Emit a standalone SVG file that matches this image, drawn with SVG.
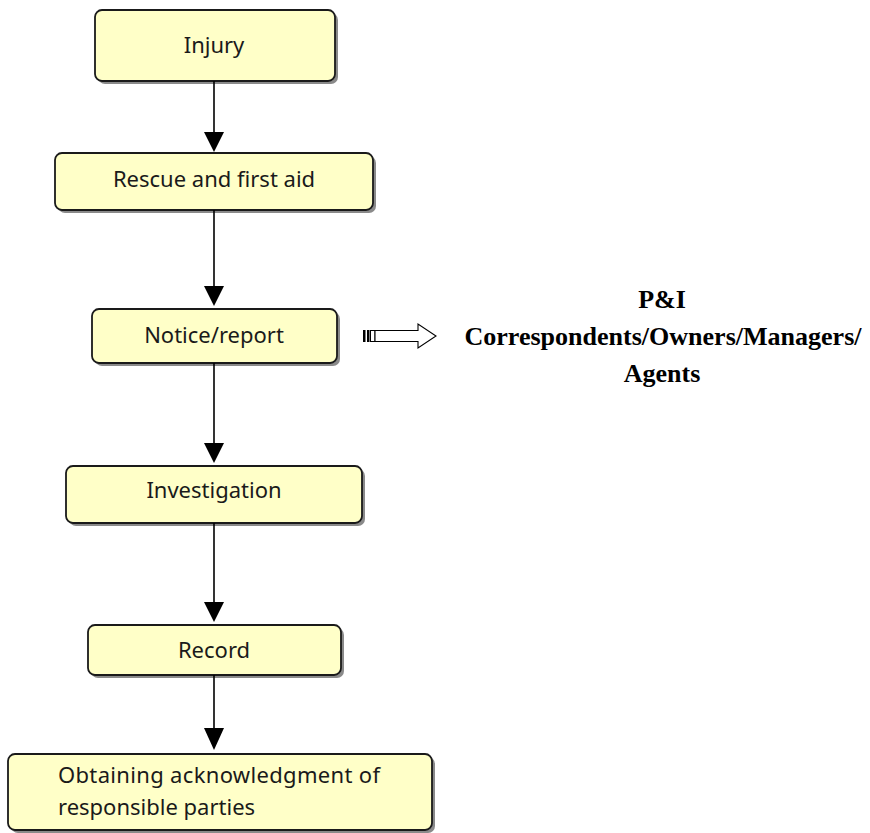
<svg xmlns="http://www.w3.org/2000/svg" width="870" height="833" viewBox="0 0 870 833">
<defs>
<style>
.box{fill:#FFFFC8;stroke:#1a1a1a;stroke-width:1.8}
.shadow{fill:#8a8a8a}
.lbl{font-family:"Noto Sans","Open Sans",sans-serif;font-size:22px;fill:#1a1a1a}
.mid{text-anchor:middle}
.ser{font-family:"Liberation Serif","Times New Roman",serif;font-weight:bold;font-size:26px;fill:#000;text-anchor:middle}
.conn{stroke:#000;stroke-width:1.6;fill:none}
.head{fill:#000}
</style>
</defs>
<rect width="870" height="833" fill="#fff"/>

<g id="node-injury">
<rect class="shadow" x="98" y="13" width="240" height="71" rx="7"/>
<rect class="box" x="95" y="10" width="240" height="71" rx="7"/>
<text class="lbl mid" x="214" y="53">Injury</text>
</g>

<g id="node-rescue">
<rect class="shadow" x="58" y="156" width="318" height="57" rx="7"/>
<rect class="box" x="55" y="153" width="318" height="57" rx="7"/>
<text class="lbl mid" x="214" y="187">Rescue and first aid</text>
</g>

<g id="node-notice">
<rect class="shadow" x="95" y="312" width="245" height="54" rx="7"/>
<rect class="box" x="92" y="309" width="245" height="54" rx="7"/>
<text class="lbl mid" x="214" y="343">Notice/report</text>
</g>

<g id="node-investigation">
<rect class="shadow" x="69" y="469" width="296" height="57" rx="7"/>
<rect class="box" x="66" y="466" width="296" height="57" rx="7"/>
<text class="lbl mid" x="214" y="498">Investigation</text>
</g>

<g id="node-record">
<rect class="shadow" x="91" y="628" width="253" height="50" rx="7"/>
<rect class="box" x="88" y="625" width="253" height="50" rx="7"/>
<text class="lbl mid" x="214" y="658">Record</text>
</g>

<g id="node-obtaining">
<rect class="shadow" x="11" y="757" width="424" height="76" rx="7"/>
<rect class="box" x="8" y="754" width="424" height="76" rx="7"/>
<text class="lbl" x="58" y="783" textLength="322" lengthAdjust="spacing">Obtaining  acknowledgment  of</text>
<text class="lbl" x="58" y="815">responsible parties</text>
</g>

<g id="node-parties">
<text class="ser" x="662" y="308">P&amp;I</text>
<text class="ser" x="663" y="345" textLength="397" lengthAdjust="spacingAndGlyphs">Correspondents/Owners/Managers/</text>
<text class="ser" x="662" y="382">Agents</text>
</g>

<g id="connectors">
<line class="conn" x1="214" y1="81" x2="214" y2="134"/>
<polygon class="head" points="204,132 224,132 214,152"/>
<line class="conn" x1="214" y1="210" x2="214" y2="288"/>
<polygon class="head" points="204,286 224,286 214,306"/>
<line class="conn" x1="214" y1="363" x2="214" y2="445"/>
<polygon class="head" points="204,443 224,443 214,463"/>
<line class="conn" x1="214" y1="523" x2="214" y2="604"/>
<polygon class="head" points="204,602 224,602 214,622"/>
<line class="conn" x1="214" y1="675" x2="214" y2="730"/>
<polygon class="head" points="204,728 224,728 214,750"/>
<g id="block-arrow">
<rect x="363" y="330" width="2.5" height="12" fill="#000"/>
<rect x="367" y="330" width="2.5" height="12" fill="#000"/>
<rect x="370.5" y="330.5" width="4.5" height="11" fill="#fff" stroke="#000" stroke-width="1"/>
<path d="M375,330.5 H418 V324 L436,336 L418,348 V341.5 H375 Z" fill="#fff" stroke="#000" stroke-width="1.1"/>
</g>
</g>
</svg>
